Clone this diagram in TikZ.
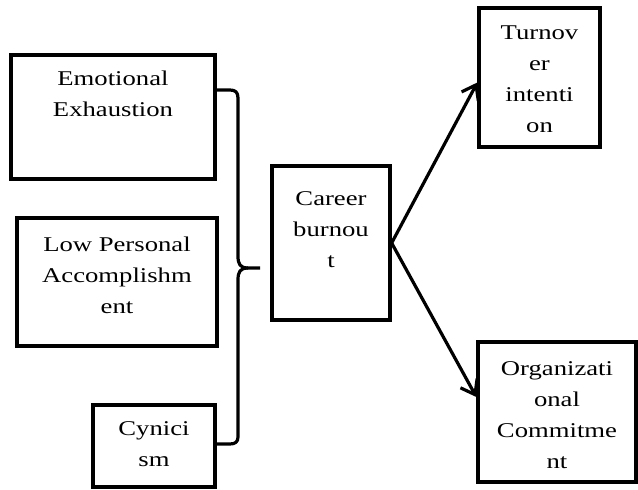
\documentclass[tikz,border=0pt]{standalone}
\usepackage{fontspec}
\setmainfont[FakeStretch=1.27]{Liberation Serif}
\usetikzlibrary{arrows.meta,calc}
\tikzset{
  boxnode/.style={draw=black, line width=3.3pt, rectangle, inner sep=0pt},
  txt/.style={anchor=north, align=center, inner sep=0pt, font=\fontsize{21}{31}\selectfont},
  arrowline/.style={line width=3.2pt, -{Straight Barb[length=13pt,width=19pt]}},
  bracel/.style={line width=3.2pt, line join=round}
}
\begin{document}
\begin{tikzpicture}[x=1pt,y=-1pt]
\useasboundingbox (0,0) rectangle (638,490);
% boxes
\node[boxnode, minimum width=204pt, minimum height=124pt] (ee) at (113,117) {};
\node[boxnode, minimum width=200pt, minimum height=128pt] (lpa) at (117,282) {};
\node[boxnode, minimum width=122pt, minimum height=82pt] (cy) at (154,446) {};
\node[boxnode, minimum width=118pt, minimum height=154pt] (cb) at (331,243) {};
\node[boxnode, minimum width=121pt, minimum height=139pt] (ti) at (539.5,77.5) {};
\node[boxnode, minimum width=158pt, minimum height=140pt] (oc) at (557,412) {};
% texts
\node[txt] (eet) at ($(ee.north)+(0,17.5)$) {Emotional\\Exhaustion};
\node[txt] (lpat) at ($(lpa.north)+(0,20.5)$) {Low Personal\\Accomplishm\\ent};
\node[txt] (cyt) at ($(cy.north)+(0,18.5)$) {Cynici\\sm};
\node[txt] (cbt) at ($(cb.north)+(0,27.5)$) {Career\\burnou\\t};
\node[txt] (tit) at ($(ti.north)+(0,19.5)$) {Turnov\\er\\intenti\\on};
\node[txt] (oct) at ($(oc.north)+(0,21.5)$) {Organizati\\onal\\Commitme\\nt};
% brace
\coordinate (bt) at (215,90);
\coordinate (bb) at (215,444);
\coordinate (btip) at (260,268);
\draw[bracel] (bt) -- (230,90) .. controls (235,90) and (238,92) .. (238,98)
  -- (238,256) .. controls (238,264) and (240,268) .. (248,268) -- (btip);
\draw[bracel] (248,268) .. controls (240,268) and (238,272) .. (238,280)
  -- (238,437) .. controls (238,442) and (235,444) .. (230,444) -- (bb);
% arrows
\draw[arrowline] (cb.east) -- ([yshift=-5pt]ti.west);
\draw[arrowline] (cb.east) -- ([yshift=15pt]oc.west);
\end{tikzpicture}
\end{document}
